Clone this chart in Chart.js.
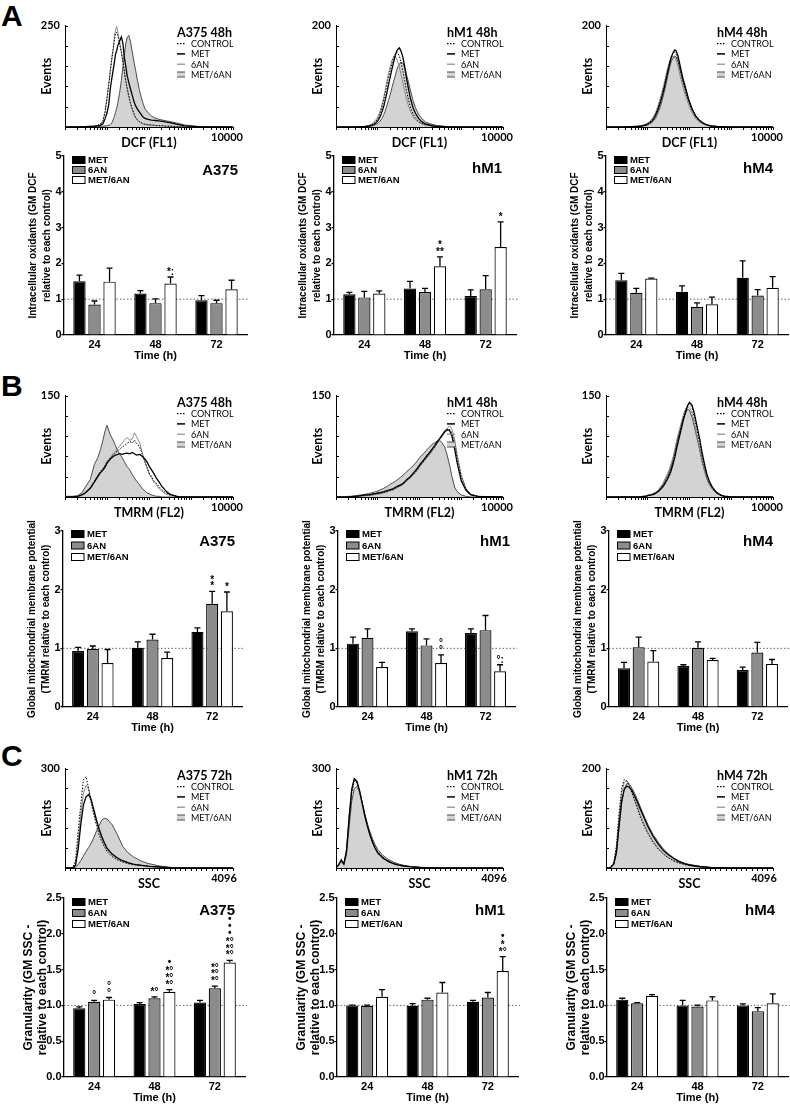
<!DOCTYPE html>
<html>
<head>
<meta charset="utf-8">
<script src="https://cdn.jsdelivr.net/npm/chart.js@4.4.1/dist/chart.umd.min.js"></script>
<style>
  body { margin: 0; background: #fff; }
  #page { position: relative; width: 790px; height: 1108px; overflow: hidden; background: #fff; }
  canvas { position: absolute; }
  .letter { position: absolute; font: bold 30px "Liberation Sans", Arial, sans-serif; line-height: 30px; }
</style>
</head>
<body>
<div id="page">
  <div class="letter" style="left:1px; top:1px">A</div>
  <div class="letter" style="left:1px; top:371px">B</div>
  <div class="letter" style="left:1px; top:741px">C</div>
</div>
<script>
// ---------- data ----------
const TIMES = ['24', '48', '72'];
const TREATMENTS = ['MET', '6AN', 'MET/6AN'];
const HIST_LABELS = ['CONTROL', 'MET', '6AN', 'MET/6AN'];

// bar charts: rows = MET, 6AN, MET/6AN ; columns = 24, 48, 72 h
const DCF_A375 = [[1.50, 1.16, 0.97], [0.85, 0.89, 0.89], [1.49, 1.44, 1.28]];
const DCF_A375_SEM = [[0.17, 0.08, 0.13], [0.10, 0.12, 0.08], [0.38, 0.18, 0.25]];
const DCF_A375_SIG = [['', '', ''], ['', '', ''], ['', '*:', '']];
const DCF_HM1 = [[1.14, 1.30, 1.09], [1.05, 1.20, 1.28], [1.16, 1.92, 2.46]];
const DCF_HM1_SEM = [[0.05, 0.20, 0.17], [0.17, 0.10, 0.38], [0.07, 0.26, 0.70]];
const DCF_HM1_SIG = [['', '', ''], ['', '', ''], ['', '*\n**', '*']];
const DCF_HM4 = [[1.53, 1.21, 1.60], [1.18, 0.79, 1.10], [1.58, 0.86, 1.32]];
const DCF_HM4_SEM = [[0.19, 0.16, 0.47], [0.12, 0.11, 0.17], [0.01, 0.20, 0.31]];
const DCF_HM4_SIG = [['', '', ''], ['', '', ''], ['', '', '']];

const TMRM_A375 = [[0.955, 1.01, 1.28], [0.99, 1.15, 1.76], [0.75, 0.835, 1.63]];
const TMRM_A375_SEM = [[0.06, 0.10, 0.07], [0.05, 0.09, 0.21], [0.23, 0.10, 0.33]];
const TMRM_A375_SIG = [['', '', ''], ['', '', '*\n*'], ['', '', '*']];
const TMRM_HM1 = [[1.08, 1.29, 1.26], [1.18, 1.05, 1.31], [0.68, 0.75, 0.61]];
const TMRM_HM1_SEM = [[0.11, 0.04, 0.07], [0.15, 0.11, 0.25], [0.08, 0.14, 0.11]];
const TMRM_HM1_SIG = [['', '', ''], ['', '', ''], ['', '°\n°', '°:']];
const TMRM_HM4 = [[0.66, 0.70, 0.63], [1.02, 1.01, 0.93], [0.775, 0.80, 0.735]];
const TMRM_HM4_SEM = [[0.10, 0.02, 0.05], [0.17, 0.10, 0.17], [0.185, 0.03, 0.075]];
const TMRM_HM4_SIG = [['', '', ''], ['', '', ''], ['', '', '']];

const SSC_A375 = [[0.96, 1.02, 1.04], [1.05, 1.10, 1.24], [1.08, 1.19, 1.60]];
const SSC_A375_SEM = [[0.02, 0.02, 0.03], [0.02, 0.02, 0.03], [0.03, 0.03, 0.03]];
const SSC_A375_SIG = [['', '', ''], ['°', '*°', '*°\n*°\n*°'], ['°\n°', '•\n*°\n*°\n*°', '•\n•\n•\n*°\n*°\n*°']];
const SSC_HM1 = [[1.00, 0.995, 1.05], [0.995, 1.08, 1.11], [1.12, 1.18, 1.48]];
const SSC_HM1_SEM = [[0.005, 0.03, 0.02], [0.01, 0.02, 0.07], [0.10, 0.14, 0.20]];
const SSC_HM1_SIG = [['', '', ''], ['', '', ''], ['', '', '•\n*\n*°']];
const SSC_HM4 = [[1.08, 1.00, 1.00], [1.03, 0.985, 0.92], [1.135, 1.07, 1.03]];
const SSC_HM4_SEM = [[0.02, 0.07, 0.02], [0.01, 0.02, 0.05], [0.015, 0.05, 0.13]];
const SSC_HM4_SIG = [['', '', ''], ['', '', ''], ['', '', '']];

// histograms: curves in order CONTROL, MET, 6AN, MET/6AN
const DCF_BINS = [1, 3, 5, 6, 7, 8, 9, 10, 11, 12, 13, 14, 15, 16, 17, 18, 20, 22, 24, 26, 28, 30, 33, 36, 40, 44, 48, 53, 60, 70, 80, 95, 115, 140, 170, 210, 260, 330, 450, 700, 1500, 10000];
const DCF_HIST_A375 = [
  [0, 1, 2, 4, 8, 16, 38, 72, 104, 138, 165, 192, 214, 230, 234, 226, 205, 183, 160, 136, 115, 98, 78, 60, 45, 33, 24, 18, 13, 9, 7, 6, 5, 4, 3, 3, 2, 2, 1, 0, 0, 0],
  [0, 1, 2, 3, 4, 8, 20, 35, 55, 95, 119, 140, 160, 180, 188, 200, 212, 222, 205, 170, 150, 128, 110, 95, 78, 62, 52, 44, 36, 26, 21, 19, 17, 16, 15, 14, 12, 10, 7, 3, 1, 0],
  [0, 1, 2, 3, 6, 14, 35, 70, 105, 140, 172, 190, 226, 238, 248, 235, 210, 185, 160, 135, 112, 95, 75, 58, 42, 30, 22, 16, 11, 8, 6, 5, 4, 4, 3, 3, 2, 2, 1, 0, 0, 0],
  [0, 0, 1, 1, 2, 2, 3, 3, 4, 6, 10, 18, 26, 36, 46, 58, 85, 115, 150, 180, 205, 220, 226, 212, 185, 160, 140, 115, 88, 62, 45, 35, 27, 22, 19, 17, 15, 13, 10, 5, 1, 0]
];
const DCF_HIST_HM1 = [
  [0, 0, 1, 2, 4, 7, 11, 16, 24, 33, 43, 54, 65, 76, 87, 97, 112, 126, 137, 144, 148, 146, 140, 128, 110, 92, 75, 58, 40, 26, 18, 11, 7, 4, 3, 2, 1, 0, 0, 0, 0, 0],
  [0, 0, 1, 2, 3, 5, 8, 12, 18, 25, 33, 42, 52, 62, 72, 82, 100, 115, 128, 140, 148, 153, 156, 150, 138, 120, 100, 80, 58, 38, 27, 17, 10, 6, 4, 2, 1, 1, 0, 0, 0, 0],
  [0, 0, 1, 3, 5, 9, 14, 20, 28, 38, 48, 60, 72, 84, 95, 105, 120, 132, 138, 140, 136, 130, 118, 104, 88, 72, 58, 45, 32, 20, 14, 9, 6, 4, 3, 2, 1, 0, 0, 0, 0, 0],
  [0, 0, 1, 1, 2, 3, 5, 7, 10, 14, 19, 25, 31, 38, 45, 52, 65, 78, 90, 100, 110, 118, 124, 128, 126, 118, 106, 92, 74, 52, 38, 25, 16, 10, 7, 5, 3, 2, 1, 0, 0, 0]
];
const DCF_HIST_HM4 = [
  [0, 0, 1, 1, 2, 3, 5, 7, 9, 12, 15, 19, 23, 28, 34, 40, 52, 64, 76, 88, 100, 112, 126, 138, 146, 148, 143, 132, 112, 88, 70, 50, 33, 20, 12, 7, 4, 2, 1, 0, 0, 0],
  [0, 0, 1, 1, 2, 3, 4, 6, 8, 10, 13, 17, 21, 26, 31, 37, 48, 60, 72, 84, 96, 108, 122, 135, 146, 152, 150, 140, 120, 95, 78, 55, 36, 22, 14, 8, 4, 2, 1, 0, 0, 0],
  [0, 0, 1, 2, 3, 4, 6, 8, 11, 14, 18, 22, 27, 32, 38, 45, 57, 70, 82, 94, 106, 117, 128, 136, 140, 138, 132, 120, 100, 78, 62, 44, 28, 17, 10, 6, 3, 2, 1, 0, 0, 0],
  [0, 0, 0, 1, 1, 2, 3, 4, 6, 8, 10, 13, 16, 20, 25, 30, 40, 52, 64, 76, 88, 100, 115, 128, 136, 140, 138, 130, 112, 90, 74, 54, 36, 22, 13, 8, 4, 2, 1, 0, 0, 0]
];

const TMRM_BINS = [1, 1.5, 2, 2.5, 3, 4, 5, 6, 7, 8, 9, 10, 12, 14, 16, 18, 20, 23, 26, 30, 35, 40, 45, 50, 60, 70, 80, 90, 100, 115, 130, 150, 175, 200, 230, 260, 300, 350, 400, 460, 530, 600, 700, 800, 1000, 1300, 1700, 2500, 10000];
const TMRM_HIST_A375 = [
  [0, 0, 1, 3, 6, 14, 24, 32, 38, 42, 47, 52, 58, 62, 66, 68, 71, 74, 76, 79, 82, 80, 84, 80, 74, 62, 52, 44, 36, 30, 24, 20, 15, 11, 8, 6, 4, 3, 2, 1, 0, 0, 0, 0, 0, 0, 0, 0, 0],
  [0, 0, 1, 3, 6, 13, 22, 30, 36, 40, 44, 50, 56, 60, 62, 63, 64, 63, 64, 65, 64, 66, 64, 62, 63, 60, 56, 52, 46, 40, 35, 28, 22, 16, 12, 8, 5, 3, 2, 1, 0, 0, 0, 0, 0, 0, 0, 0, 0],
  [0, 0, 1, 2, 5, 12, 22, 30, 36, 40, 46, 52, 58, 64, 68, 72, 75, 80, 84, 88, 84, 86, 95, 90, 80, 64, 52, 42, 34, 28, 22, 18, 12, 9, 6, 4, 3, 2, 1, 0, 0, 0, 0, 0, 0, 0, 0, 0, 0],
  [1, 1, 2, 6, 14, 26, 48, 58, 70, 84, 98, 106, 92, 84, 76, 68, 64, 58, 52, 45, 40, 33, 28, 24, 18, 12, 9, 6, 5, 3, 2, 1, 1, 0, 0, 0, 0, 0, 0, 0, 0, 0, 0, 0, 0, 0, 0, 0, 0]
];
const TMRM_HIST_HM1 = [
  [0, 0, 0, 1, 1, 2, 2, 3, 3, 4, 5, 5, 6, 7, 8, 9, 10, 11, 13, 15, 17, 19, 22, 25, 29, 33, 37, 41, 45, 50, 54, 59, 64, 69, 74, 79, 85, 90, 95, 98, 100, 94, 78, 58, 30, 12, 4, 1, 0],
  [0, 0, 0, 1, 1, 2, 3, 3, 4, 5, 5, 6, 7, 8, 9, 10, 11, 12, 14, 16, 18, 20, 23, 26, 30, 35, 39, 43, 47, 52, 56, 61, 66, 71, 76, 81, 86, 92, 97, 100, 98, 90, 70, 50, 24, 10, 3, 1, 0],
  [0, 0, 0, 0, 1, 1, 2, 2, 3, 3, 4, 4, 5, 6, 7, 8, 9, 10, 12, 14, 16, 18, 21, 24, 28, 32, 36, 40, 44, 49, 53, 58, 63, 68, 73, 78, 84, 90, 96, 102, 105, 100, 84, 62, 32, 12, 4, 1, 0],
  [0, 0, 1, 1, 2, 3, 4, 5, 6, 7, 8, 9, 11, 13, 15, 17, 19, 21, 23, 26, 29, 32, 35, 38, 42, 46, 50, 54, 58, 62, 65, 70, 74, 78, 80, 82, 84, 80, 74, 62, 46, 30, 14, 8, 3, 1, 0, 0, 0]
];
const TMRM_HIST_HM4 = [
  [0, 0, 0, 0, 0, 0, 0, 0, 0, 1, 1, 2, 3, 5, 7, 9, 12, 16, 22, 29, 39, 51, 64, 78, 98, 116, 128, 136, 138, 132, 118, 100, 80, 60, 44, 31, 21, 14, 9, 6, 3, 2, 1, 0, 0, 0, 0, 0, 0],
  [0, 0, 0, 0, 0, 0, 0, 0, 0, 1, 1, 2, 3, 4, 6, 8, 11, 15, 20, 27, 36, 48, 60, 74, 94, 112, 125, 135, 140, 136, 124, 106, 86, 66, 48, 34, 23, 15, 10, 6, 4, 2, 1, 1, 0, 0, 0, 0, 0],
  [0, 0, 0, 0, 0, 0, 0, 0, 1, 1, 2, 3, 4, 6, 8, 11, 15, 20, 27, 35, 46, 58, 72, 86, 104, 120, 130, 134, 132, 124, 110, 92, 73, 55, 40, 28, 19, 12, 8, 5, 3, 2, 1, 0, 0, 0, 0, 0, 0],
  [0, 0, 0, 0, 0, 0, 0, 0, 0, 1, 1, 2, 3, 5, 7, 10, 13, 18, 24, 32, 42, 55, 68, 82, 100, 115, 124, 130, 128, 118, 105, 88, 70, 52, 38, 27, 18, 12, 8, 5, 3, 2, 1, 0, 0, 0, 0, 0, 0]
];

const SSC_BINS = [0, 64, 128, 192, 256, 320, 384, 448, 512, 576, 640, 704, 768, 832, 896, 960, 1024, 1152, 1280, 1408, 1536, 1664, 1792, 1920, 2048, 2304, 2560, 3072, 3584, 4096];
const SSC_HIST_A375 = [
  [0, 0, 0, 2, 20, 110, 190, 266, 276, 240, 195, 160, 128, 100, 80, 64, 50, 34, 24, 18, 13, 10, 8, 7, 5, 3, 1, 0, 0, 0],
  [0, 0, 0, 1, 8, 55, 130, 190, 215, 222, 205, 175, 145, 118, 95, 76, 60, 42, 30, 22, 16, 12, 9, 7, 5, 3, 1, 0, 0, 0],
  [0, 0, 0, 1, 12, 80, 160, 225, 250, 238, 205, 170, 138, 110, 88, 70, 56, 38, 27, 20, 15, 11, 9, 7, 5, 3, 1, 0, 0, 0],
  [0, 0, 0, 0, 3, 10, 22, 36, 50, 62, 75, 92, 112, 128, 145, 150, 148, 130, 100, 65, 46, 34, 25, 18, 13, 6, 2, 0, 0, 0]
];
const SSC_HIST_HM1 = [
  [0, 9, 22, 12, 48, 140, 225, 262, 258, 232, 196, 160, 130, 102, 80, 62, 48, 32, 22, 14, 10, 7, 5, 3, 2, 1, 0, 0, 0, 0],
  [0, 10, 25, 12, 50, 150, 235, 270, 262, 235, 198, 160, 128, 100, 78, 60, 46, 30, 20, 13, 9, 6, 4, 3, 2, 1, 0, 0, 0, 0],
  [0, 9, 22, 14, 55, 155, 240, 268, 255, 225, 190, 155, 125, 98, 76, 58, 44, 29, 19, 12, 8, 6, 4, 3, 2, 1, 0, 0, 0, 0],
  [0, 8, 20, 10, 40, 120, 200, 240, 245, 230, 200, 165, 135, 110, 88, 70, 56, 38, 26, 18, 12, 8, 5, 3, 2, 1, 0, 0, 0, 0]
];
const SSC_HIST_HM4 = [
  [0, 0, 3, 12, 45, 110, 160, 178, 175, 165, 150, 135, 120, 105, 92, 80, 70, 52, 38, 28, 20, 14, 10, 7, 5, 2, 1, 0, 0, 0],
  [0, 0, 2, 8, 32, 85, 135, 158, 165, 162, 155, 145, 133, 120, 108, 96, 84, 64, 48, 35, 26, 19, 13, 9, 6, 3, 1, 0, 0, 0],
  [0, 0, 3, 10, 40, 100, 150, 172, 176, 168, 155, 140, 125, 110, 96, 84, 72, 54, 40, 29, 21, 15, 11, 8, 5, 2, 1, 0, 0, 0],
  [0, 0, 2, 8, 30, 80, 130, 160, 170, 168, 160, 150, 138, 125, 112, 100, 88, 68, 52, 38, 28, 20, 14, 10, 7, 3, 1, 0, 0, 0]
];

// ---------- helpers ----------
const BF = '"Liberation Sans", Arial, sans-serif';   // bar charts
const HF = 'Lato, "Open Sans", sans-serif';           // histograms
Chart.defaults.color = '#000';
Chart.defaults.font.family = BF;

const page = document.getElementById('page');
function makeCanvas(left, top, width, height) {
  const c = document.createElement('canvas');
  c.width = width; c.height = height;
  c.style.left = left + 'px'; c.style.top = top + 'px';
  c.style.width = width + 'px'; c.style.height = height + 'px';
  page.appendChild(c);
  return c;
}

// error bars, dotted control line, significance marks, inside legend, cell name
const barExtras = {
  id: 'barExtras',
  beforeDatasetsDraw(chart) {
    const {ctx, chartArea: a} = chart;
    const y1 = chart.scales.y.getPixelForValue(1);
    ctx.save();
    ctx.strokeStyle = '#666'; ctx.lineWidth = 1; ctx.setLineDash([1.5, 2]);
    ctx.beginPath(); ctx.moveTo(a.left, y1); ctx.lineTo(a.right + 2, y1); ctx.stroke();
    ctx.restore();
  },
  afterDatasetsDraw(chart) {
    const {ctx} = chart;
    const ys = chart.scales.y;
    ctx.save();
    ctx.strokeStyle = '#000'; ctx.lineWidth = 1.3;
    ctx.fillStyle = '#000'; ctx.textAlign = 'center'; ctx.textBaseline = 'alphabetic';
    ctx.font = 'bold 10px ' + BF;
    chart.data.datasets.forEach((ds, i) => {
      chart.getDatasetMeta(i).data.forEach((bar, j) => {
        const yTop = ys.getPixelForValue(ds.data[j] + ds.errors[j]);
        const yVal = ys.getPixelForValue(ds.data[j]);
        ctx.beginPath();
        ctx.moveTo(bar.x, yVal); ctx.lineTo(bar.x, yTop);
        ctx.moveTo(bar.x - 3, yTop); ctx.lineTo(bar.x + 3, yTop);
        ctx.stroke();
        const s = ds.marks[j];
        if (!s) return;
        const rows = s.split('\n');
        rows.forEach((r, k) => {
          let base = yTop - 2 - (rows.length - 1 - k) * 6.7;
          if (r === '•') base -= 2.5;
          ctx.fillText(r, bar.x, base);
        });
      });
    });
    ctx.restore();
  },
  afterDraw(chart, args, o) {
    const {ctx, chartArea: a} = chart;
    ctx.save();
    ctx.textBaseline = 'middle';
    ctx.font = 'bold 9.5px ' + BF;
    chart.data.datasets.forEach((ds, i) => {
      const y = a.top + o.legendRows[i];
      ctx.fillStyle = ds.backgroundColor;
      ctx.fillRect(a.left + 8, y - 3.5, 13, 7);
      ctx.strokeStyle = '#000'; ctx.lineWidth = 1;
      ctx.strokeRect(a.left + 8.5, y - 3.5, 12.5, 7);
      ctx.fillStyle = '#000';
      ctx.fillText(ds.label, a.left + 24, y + 0.5);
    });
    ctx.font = 'bold 15px ' + BF;
    ctx.textAlign = 'right';
    ctx.fillText(o.cell, a.right + o.cellDx, a.top + o.cellDy);
    ctx.restore();
  }
};

const BAR_FILL = ['#000000', '#8c8c8c', '#ffffff'];
function barPanel(pos, means, sems, marks, yMax, decimals, yTitle, tFont, tPad, yw, cell, cellDx, cellDy, legendRows) {
  const xh = 30, padTop = 16;
  const left = pos.ax - yw, top = pos.top - padTop;
  const canvas = makeCanvas(left, top, pos.right + 4 - left, pos.zero + xh - top);
  new Chart(canvas, {
    type: 'bar',
    data: {
      labels: TIMES,
      datasets: TREATMENTS.map((t, i) => ({
        label: t, data: means[i], errors: sems[i], marks: marks[i],
        backgroundColor: BAR_FILL[i], borderColor: '#000', borderWidth: 1.2,
        categoryPercentage: 0.74, barPercentage: 0.82
      }))
    },
    options: {
      responsive: false, animation: false, devicePixelRatio: 1,
      layout: {padding: {top: padTop, right: 4, left: 0, bottom: 0}},
      plugins: {
        legend: {display: false}, tooltip: {enabled: false},
        barExtras: {cell: cell, cellDx: cellDx, cellDy: cellDy, legendRows: legendRows}
      },
      scales: {
        x: {
          grid: {display: false, drawTicks: false},
          border: {color: '#000', width: 1.3},
          ticks: {padding: 3, font: {size: 11, weight: 'bold'}},
          title: {display: true, text: 'Time (h)', font: {size: 11, weight: 'bold'}, padding: {top: 0, bottom: 2}},
          afterFit: s => { s.height = xh; }
        },
        y: {
          min: 0, max: yMax,
          ticks: {stepSize: yMax <= 2.5 ? 0.5 : 1, padding: 0, font: {size: 11, weight: 'bold'},
                  callback: v => v.toFixed(decimals)},
          grid: {drawOnChartArea: false, tickLength: 2.5, color: '#000', lineWidth: 1.2},
          border: {color: '#000', width: 1.3},
          title: {display: true, text: yTitle, font: {size: tFont.size, weight: 'bold', lineHeight: tFont.lh},
                  padding: {top: tPad, bottom: 0}},
          afterFit: s => { s.width = yw; }
        }
      }
    },
    plugins: [barExtras]
  });
}

// histogram legend + title + inward y ticks
const histLegend = {
  id: 'histLegend',
  afterDraw(chart, args, o) {
    const {ctx, chartArea: a} = chart;
    const ys = chart.scales.y;
    ctx.save();
    ctx.strokeStyle = '#000'; ctx.lineWidth = 1;
    ys.ticks.forEach(t => {
      const y = Math.round(ys.getPixelForValue(t.value)) + 0.5;
      ctx.beginPath(); ctx.moveTo(a.left, y); ctx.lineTo(a.left + 3, y); ctx.stroke();
    });
    const x0 = a.right - 56;
    ctx.fillStyle = '#000'; ctx.textBaseline = 'middle'; ctx.textAlign = 'left';
    ctx.font = 'bold 12.5px ' + HF;
    ctx.fillText(o.title, x0, a.top + 7);
    ctx.font = '9px ' + HF;
    chart.data.datasets.forEach((ds, i) => {
      const y = a.top + 18 + i * 10.3;
      if (ds.fill) {
        ctx.fillStyle = ds.backgroundColor;
        ctx.fillRect(x0, y - 2.5, 8, 5);
        ctx.strokeStyle = ds.borderColor; ctx.lineWidth = 1;
        ctx.beginPath(); ctx.moveTo(x0, y - 2.5); ctx.lineTo(x0 + 8, y - 2.5);
        ctx.moveTo(x0, y + 2.5); ctx.lineTo(x0 + 8, y + 2.5); ctx.stroke();
      } else {
        ctx.strokeStyle = ds.borderColor; ctx.lineWidth = ds.borderWidth + 0.2;
        ctx.setLineDash(ds.borderDash || []);
        ctx.beginPath(); ctx.moveTo(x0, y); ctx.lineTo(x0 + 8, y); ctx.stroke();
        ctx.setLineDash([]);
      }
      ctx.fillStyle = '#000';
      ctx.fillText(ds.label, x0 + 14, y + 0.5);
    });
    ctx.restore();
  }
};

const HIST_STYLE = [
  {borderColor: '#000', borderWidth: 1, borderDash: [1.5, 1.5]},
  {borderColor: '#000', borderWidth: 1.3},
  {borderColor: '#8a8a8a', borderWidth: 1},
  {borderColor: '#4d4d4d', borderWidth: 1, fill: 'origin', backgroundColor: '#d3d3d3'}
];
function histPanel(pos, bins, curves, logX, yMax, yDiv, xTitle, title) {
  const yw = 35, xh = 24, padTop = 8, padRight = 18;
  const left = pos.ax - yw, top = pos.top - padTop;
  const canvas = makeCanvas(left, top, pos.right + padRight - left, pos.base + xh - top);
  const xMax = logX ? 10000 : 4096;
  const xTicks = [];
  if (logX) {
    for (let d = 1; d < 10000; d *= 10) for (let k = 1; k < 10; k++) xTicks.push(k * d);
    xTicks.push(10000);
  } else {
    for (let v = 0; v <= 4096; v += 128) xTicks.push(v);
  }
  new Chart(canvas, {
    type: 'line',
    data: {
      datasets: HIST_LABELS.map((lab, i) => Object.assign({
        label: lab,
        data: bins.map((b, k) => ({x: b, y: curves[i][k]})),
        pointRadius: 0, tension: 0, fill: false
      }, HIST_STYLE[i]))
    },
    options: {
      responsive: false, animation: false, devicePixelRatio: 1,
      layout: {padding: {top: padTop, right: padRight, left: 0, bottom: 0}},
      plugins: {legend: {display: false}, tooltip: {enabled: false}, histLegend: {title: title}},
      scales: {
        x: {
          type: logX ? 'logarithmic' : 'linear', min: logX ? 1 : 0, max: xMax,
          afterBuildTicks: s => { s.ticks = xTicks.map(v => ({value: v})); },
          ticks: {autoSkip: false, maxRotation: 0, padding: 1, labelOffset: logX ? -6 : -9,
                  font: {family: HF, size: 11, weight: 'bold'},
                  callback: v => (v === xMax ? String(xMax) : '')},
          grid: {drawOnChartArea: false, tickLength: 3, color: '#000'},
          border: {color: '#000', width: 1},
          title: {display: true, text: xTitle, font: {family: HF, size: 12.5, weight: 'bold'}, padding: {top: 0, bottom: 1}},
          afterFit: s => { s.height = xh; }
        },
        y: {
          min: 0, max: yMax,
          afterBuildTicks: s => {
            const t = [];
            for (let k = 0; k <= yDiv; k++) t.push({value: yMax * k / yDiv});
            s.ticks = t;
          },
          ticks: {padding: 5, font: {family: HF, size: 11, weight: 'bold'},
                  callback: v => (v === yMax ? String(yMax) : '')},
          grid: {drawOnChartArea: false, drawTicks: false},
          border: {color: '#000', width: 1},
          title: {display: true, text: 'Events', font: {family: HF, size: 12.5, weight: 'bold'}, padding: {top: 9.5, bottom: 0}},
          afterFit: s => { s.width = yw; }
        }
      }
    },
    plugins: [histLegend]
  });
}

// ---------- panels ----------
// A: intracellular oxidants
histPanel({ax: 65, top: 22, base: 127, right: 233}, DCF_BINS, DCF_HIST_A375, true, 250, 5, 'DCF (FL1)', 'A375 48h');
histPanel({ax: 336, top: 22, base: 127, right: 503}, DCF_BINS, DCF_HIST_HM1, true, 200, 5, 'DCF (FL1)', 'hM1 48h');
histPanel({ax: 606, top: 22, base: 127, right: 773}, DCF_BINS, DCF_HIST_HM4, true, 200, 5, 'DCF (FL1)', 'hM4 48h');

const TITLE_A = ['Intracellular oxidants (GM DCF', 'relative to each control)'];
const FONT_AB = {size: 10, lh: 1.4};
barPanel({ax: 64, top: 156, zero: 335, right: 247}, DCF_A375, DCF_A375_SEM, DCF_A375_SIG, 5, 0, TITLE_A, FONT_AB, 2.5, 40, 'A375', -9, 15, [4, 14, 24]);
barPanel({ax: 334, top: 156, zero: 335, right: 516}, DCF_HM1, DCF_HM1_SEM, DCF_HM1_SIG, 5, 0, TITLE_A, FONT_AB, 2.5, 40, 'hM1', -14, 13, [4, 14, 24]);
barPanel({ax: 606, top: 156, zero: 335, right: 788}, DCF_HM4, DCF_HM4_SEM, DCF_HM4_SIG, 5, 0, TITLE_A, FONT_AB, 2.5, 40, 'hM4', -15, 13, [4, 14, 24]);

// B: mitochondrial membrane potential
histPanel({ax: 65, top: 392, base: 497, right: 233}, TMRM_BINS, TMRM_HIST_A375, true, 150, 5, 'TMRM (FL2)', 'A375 48h');
histPanel({ax: 336, top: 392, base: 497, right: 503}, TMRM_BINS, TMRM_HIST_HM1, true, 150, 5, 'TMRM (FL2)', 'hM1 48h');
histPanel({ax: 606, top: 392, base: 497, right: 773}, TMRM_BINS, TMRM_HIST_HM4, true, 150, 5, 'TMRM (FL2)', 'hM4 48h');

const TITLE_B = ['Global mitochondrial membrane potential', '(TMRM relative to each control)'];
barPanel({ax: 63, top: 531, zero: 707, right: 242}, TMRM_A375, TMRM_A375_SEM, TMRM_A375_SIG, 3, 0, TITLE_B, FONT_AB, 2.5, 40, 'A375', -7, 11, [3, 14.5, 26]);
barPanel({ax: 338, top: 531, zero: 707, right: 515}, TMRM_HM1, TMRM_HM1_SEM, TMRM_HM1_SIG, 3, 0, TITLE_B, FONT_AB, 2.5, 40, 'hM1', -5, 11, [3, 14.5, 26]);
barPanel({ax: 609, top: 531, zero: 707, right: 787}, TMRM_HM4, TMRM_HM4_SEM, TMRM_HM4_SIG, 3, 0, TITLE_B, FONT_AB, 2.5, 40, 'hM4', -14, 11, [3, 14.5, 26]);

// C: granularity
histPanel({ax: 65, top: 765, base: 868, right: 233}, SSC_BINS, SSC_HIST_A375, false, 300, 10, 'SSC', 'A375 72h');
histPanel({ax: 336, top: 765, base: 868, right: 503}, SSC_BINS, SSC_HIST_HM1, false, 300, 10, 'SSC', 'hM1 72h');
histPanel({ax: 606, top: 765, base: 868, right: 773}, SSC_BINS, SSC_HIST_HM4, false, 200, 10, 'SSC', 'hM4 72h');

const TITLE_C = ['Granularity (GM SSC -', 'relative to each control)'];
const FONT_C = {size: 12, lh: 1.15};
barPanel({ax: 64, top: 898, zero: 1077, right: 245}, SSC_A375, SSC_A375_SEM, SSC_A375_SIG, 2.5, 1, TITLE_C, FONT_C, 2, 44, 'A375', -10, 13, [4, 15, 26]);
barPanel({ax: 337, top: 898, zero: 1077, right: 518}, SSC_HM1, SSC_HM1_SEM, SSC_HM1_SIG, 2.5, 1, TITLE_C, FONT_C, 2, 44, 'hM1', -13, 13, [4, 15, 26]);
barPanel({ax: 607, top: 898, zero: 1077, right: 788}, SSC_HM4, SSC_HM4_SEM, SSC_HM4_SIG, 2.5, 1, TITLE_C, FONT_C, 2, 44, 'hM4', -13, 13, [4, 15, 26]);
</script>
</body>
</html>
